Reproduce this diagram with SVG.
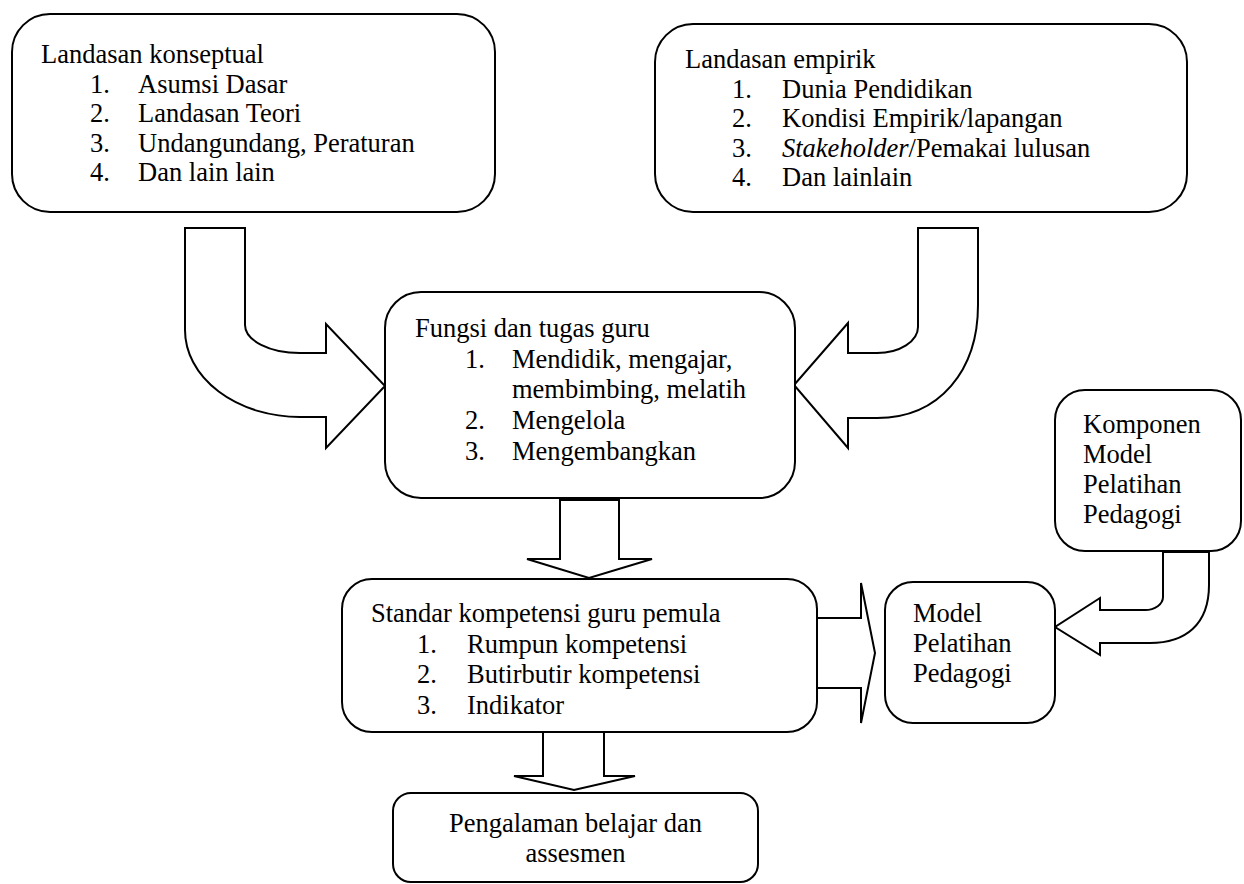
<svg xmlns="http://www.w3.org/2000/svg" width="1244" height="884" viewBox="0 0 1244 884">
<style>
.box{fill:#fff;stroke:#000;stroke-width:2}
.arr{fill:#fff;stroke:#000;stroke-width:2;stroke-linejoin:miter}
text{font-family:"Liberation Serif","Times New Roman",serif;font-size:26.5px;fill:#000}
.c{text-anchor:middle}
</style>
<rect width="1244" height="884" fill="#fff"/>
<g id="connectors">
<path class="arr" d="M185,228 H245 V325 A55,28 0 0 0 300,353 H326 V324 L385,386 L326,448 V417 H300 A115,87 0 0 1 185,330 Z"/>
<path class="arr" d="M978,228 H918 V327 A41,26 0 0 1 877,353 H848 V323 L794,385 L848,448 V418 H877 C940,418 978,370 978,305 Z"/>
<path class="arr" d="M560,500 H619 V559 H652 L589,578 L527,559 H560 Z"/>
<path class="arr" d="M816,618 H861 V583 L875,653 L861,723 V688 H816 Z"/>
<path class="arr" d="M1163,552 H1209 V585 C1209,625 1185,643 1150,643 H1100 V655 L1055,627 L1100,598 V610 H1145 A18,13 0 0 0 1163,597 Z"/>
<path class="arr" d="M543,732 H604 V776 H635 L574,790 L514,776 H543 Z"/>
</g>
<g id="landasan-konseptual">
<rect class="box" x="12" y="14" width="483" height="198" rx="38"/>
<text x="41" y="63">Landasan konseptual</text>
<text x="90" y="92.5">1.</text><text x="138" y="92.5">Asumsi Dasar</text>
<text x="90" y="122">2.</text><text x="138" y="122">Landasan Teori</text>
<text x="90" y="151.5">3.</text><text x="138" y="151.5">Undangundang, Peraturan</text>
<text x="90" y="181">4.</text><text x="138" y="181">Dan lain lain</text>
</g>
<g id="landasan-empirik">
<rect class="box" x="655" y="24" width="532" height="188" rx="38"/>
<text x="685" y="68">Landasan empirik</text>
<text x="732" y="97.5">1.</text><text x="782" y="97.5">Dunia Pendidikan</text>
<text x="732" y="127">2.</text><text x="782" y="127">Kondisi Empirik/lapangan</text>
<text x="732" y="156.5">3.</text><text x="782" y="156.5"><tspan font-style="italic">Stakeholder</tspan>/Pemakai lulusan</text>
<text x="732" y="186">4.</text><text x="782" y="186">Dan lainlain</text>
</g>
<g id="fungsi">
<rect class="box" x="385" y="292" width="410" height="206" rx="36"/>
<text x="415" y="337">Fungsi dan tugas guru</text>
<text x="465" y="368">1.</text><text x="512" y="368">Mendidik, mengajar,</text>
<text x="512" y="398">membimbing, melatih</text>
<text x="465" y="429">2.</text><text x="512" y="429">Mengelola</text>
<text x="465" y="460">3.</text><text x="512" y="460">Mengembangkan</text>
</g>
<g id="standar">
<rect class="box" x="342" y="579" width="475" height="153" rx="30"/>
<text x="371" y="622">Standar kompetensi guru pemula</text>
<text x="417" y="652.5">1.</text><text x="467" y="652.5">Rumpun kompetensi</text>
<text x="417" y="683">2.</text><text x="467" y="683">Butirbutir kompetensi</text>
<text x="417" y="713.5">3.</text><text x="467" y="713.5">Indikator</text>
</g>
<g id="komponen">
<rect class="box" x="1055" y="390" width="186" height="161" rx="30"/>
<text x="1083" y="433">Komponen</text>
<text x="1083" y="463">Model</text>
<text x="1083" y="493">Pelatihan</text>
<text x="1083" y="523">Pedagogi</text>
</g>
<g id="model">
<rect class="box" x="885" y="582" width="170" height="141" rx="28"/>
<text x="913" y="622">Model</text>
<text x="913" y="652">Pelatihan</text>
<text x="913" y="682">Pedagogi</text>
</g>
<g id="pengalaman">
<rect class="box" x="393" y="793" width="365" height="89" rx="18"/>
<text class="c" x="575.5" y="832">Pengalaman belajar dan</text>
<text class="c" x="575.5" y="862">assesmen</text>
</g>
</svg>
